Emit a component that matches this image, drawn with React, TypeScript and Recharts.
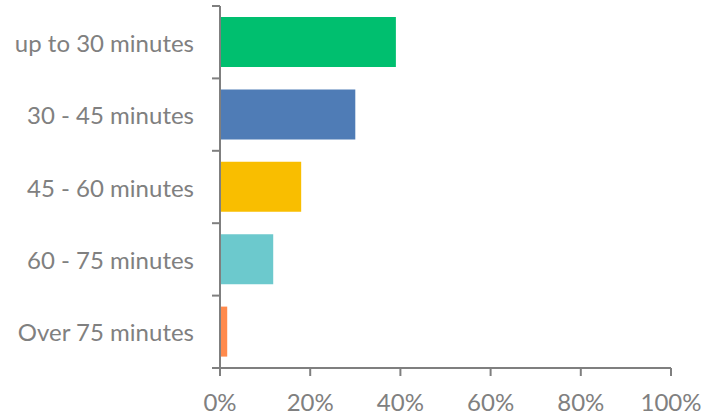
import { BarChart, Bar, XAxis, YAxis, Cell } from 'recharts';

const categories = ['up to 30 minutes', '30 - 45 minutes', '45 - 60 minutes', '60 - 75 minutes', 'Over 75 minutes'];
const shares = [0.39, 0.30, 0.18, 0.118, 0.016];
const barColors = ['#00BF6F', '#4F7CB6', '#F9BE00', '#6CC9CD', '#FF8A4C'];
const xTicks = [0, 0.2, 0.4, 0.6, 0.8, 1];

const AXIS = '#7f7f7f';
const TEXT = '#808080';
const FONT = 'Lato, "Open Sans", sans-serif';

const data = categories.map((name, i) => ({ name, value: shares[i] }));

// category ticks: label in the middle, tick marks on the band edges
function CategoryTick(props: any) {
  const { x, y, payload, index, visibleTicksCount } = props;
  const half = payload.offset || 36;
  const axisX = x + 18;
  const isLast = index === (visibleTicksCount ?? categories.length) - 1;
  return (
    <g>
      <line x1={axisX - 8} x2={axisX} y1={y - half} y2={y - half} stroke={AXIS} strokeWidth={2} />
      {isLast && <line x1={axisX - 8} x2={axisX} y1={y + half} y2={y + half} stroke={AXIS} strokeWidth={2} />}
      <text x={x - 8} y={y} textAnchor="end" dominantBaseline="central" fill={TEXT} fontSize={24} fontFamily={FONT}>
        {payload.value}
      </text>
    </g>
  );
}

export default function App() {
  return (
    <div style={{ position: 'absolute', left: 0, top: 0, background: '#fff' }}>
      <BarChart
        width={702}
        height={417}
        data={data}
        layout="vertical"
        margin={{ top: 6, right: 31, bottom: 19, left: 0 }}
        barSize={50}
      >
        <XAxis
          type="number"
          domain={[0, 1]}
          ticks={xTicks}
          interval={0}
          tickFormatter={(v: number) => `${Math.round(v * 100)}%`}
          axisLine={{ stroke: AXIS, strokeWidth: 2 }}
          tickLine={{ stroke: AXIS, strokeWidth: 2 }}
          tickSize={8}
          tickMargin={18}
          tick={{ fill: TEXT, fontSize: 24, fontFamily: FONT }}
        />
        <YAxis
          type="category"
          dataKey="name"
          width={220}
          interval={0}
          axisLine={{ stroke: AXIS, strokeWidth: 2 }}
          tickLine={false}
          tickSize={0}
          tickMargin={18}
          tick={<CategoryTick />}
        />
        <Bar dataKey="value" isAnimationActive={false}>
          {data.map((d, i) => (
            <Cell key={d.name} fill={barColors[i]} />
          ))}
        </Bar>
      </BarChart>
    </div>
  );
}
